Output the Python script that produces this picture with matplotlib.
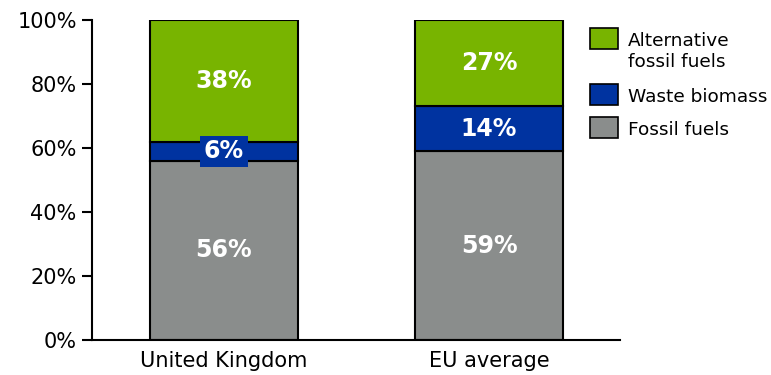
import matplotlib.pyplot as plt
from matplotlib.patches import Rectangle

countries = ["United Kingdom", "EU average"]
fossil = [56, 59]
waste = [6, 14]
alternative = [38, 27]
series_names = ["Fossil fuels", "Waste biomass", "Alternative\nfossil fuels"]
colors = ["#8a8d8c", "#0033a0", "#78b400"]

W, H = 771, 375
fig = plt.figure(figsize=(W / 100, H / 100), dpi=100)
ax = fig.add_axes([0.1193, 0.0933, 0.6848, 0.8534])

x = [0, 1]
bottom = [0, 0]
for vals, name, col in zip([fossil, waste, alternative], series_names, colors):
	ax.bar(x, vals, bottom=bottom, width=0.558, color=col,
		   edgecolor="black", linewidth=1.5, label=name)
	for xi, b, v in zip(x, bottom, vals):
		t = ax.text(xi, b + v / 2, "%d%%" % v, ha="center", va="center",
					color="white", fontsize=17, fontweight="bold")
		if v < 10:
			t.set_bbox(dict(facecolor=col, edgecolor="none", pad=2.5))
	bottom = [b + v for b, v in zip(bottom, vals)]

ax.set_xlim(-0.498, 1.494)
ax.set_ylim(0, 100)
ax.set_yticks(range(0, 101, 20))
ax.set_yticklabels(["%d%%" % v for v in range(0, 101, 20)])
ax.set_xticks(x)
ax.set_xticklabels(countries)
ax.tick_params(axis="y", labelsize=15, length=7, width=1.5, colors="black", pad=4)
ax.tick_params(axis="x", labelsize=15, length=0, pad=8)
for s in ["top", "right"]:
	ax.spines[s].set_visible(False)
for s in ["left", "bottom"]:
	ax.spines[s].set_linewidth(1.5)

# legend drawn by hand so the box lines up with the first text line
row_top = [117, 84, 28]  # pixel row of each swatch top (fossil, waste, alternative)
for name, col, top in zip(series_names, colors, row_top):
	fig.add_artist(Rectangle((590 / W, 1 - (top + 21) / H), 28 / W, 21 / H,
							 transform=fig.transFigure, facecolor=col,
							 edgecolor="black", linewidth=1.2))
	for k, line in enumerate(name.split("\n")):
		fig.text(628 / W, 1 - (top + 13 + 21 * k) / H, line, ha="left",
				 va="center", fontsize=13.3, color="black")

fig.savefig("out.png", dpi=100)
